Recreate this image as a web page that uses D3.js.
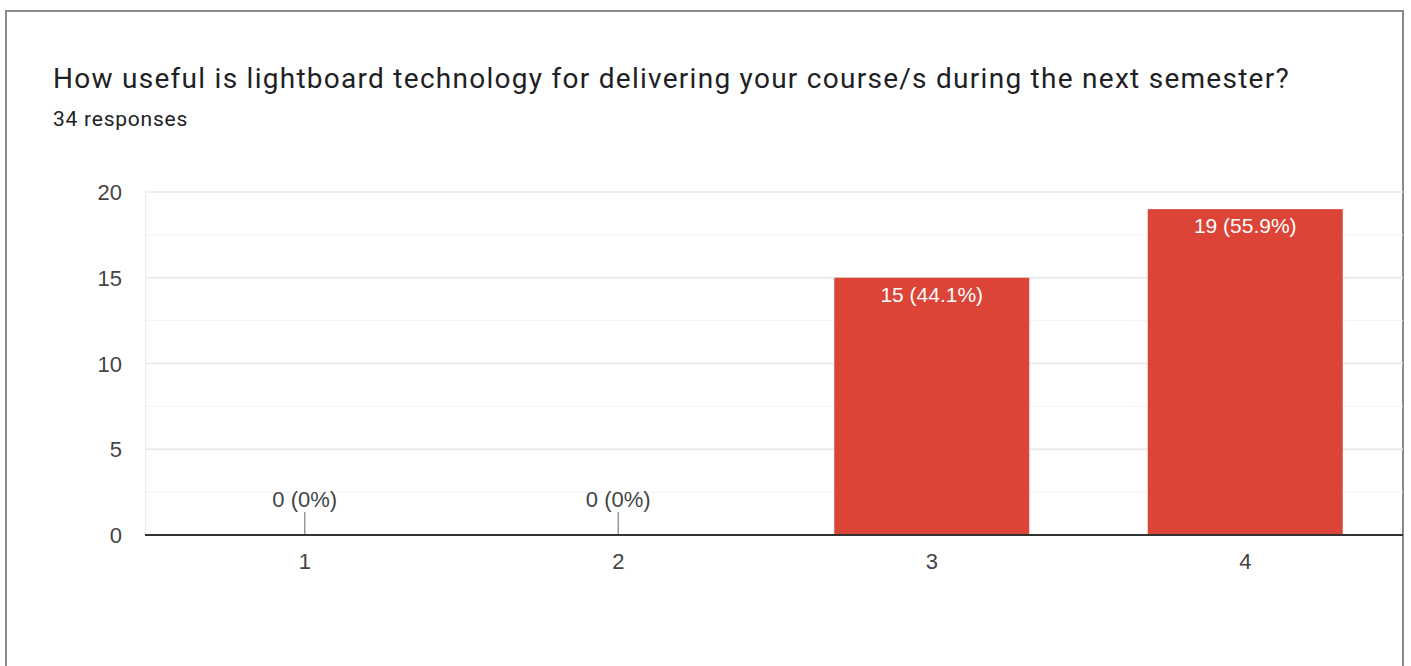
<!DOCTYPE html>
<head>
    <style>
        body {
            margin: 0;
            background: #fff;
            font-family: "Liberation Sans", Arial, sans-serif;
        }
        .card {
            position: absolute;
            left: 5px;
            top: 10px;
            width: 1399px;
            height: 700px;
            border: 2px solid #8a8a8a;
            box-sizing: border-box;
        }
    </style>
    <script src='https://d3js.org/d3.v7.min.js'></script>
</head>
<body>
    <div class="card"></div>
    <script>
        // survey answers
        const categories = ['1', '2', '3', '4'];
        const counts = [0, 0, 15, 19];
        const yTicks = [0, 5, 10, 15, 20];
        const total = 34;

        const width = 1411, height = 666;

        const svg = d3.select('body').append('svg')
            .attr('width', width)
            .attr('height', height)
            .style('position', 'absolute')
            .style('left', 0)
            .style('top', 0);

        // nudge a text to a given width with letter spacing
        function fitWidth(sel, target) {
            const n = sel.text().length;
            const w = sel.node().getComputedTextLength();
            sel.style('letter-spacing', ((target - w) / n) + 'px');
        }

        //TITLE
        const title = svg.append('text')
            .attr('x', 53).attr('y', 88)
            .style('font-family', 'Roboto, sans-serif')
            .style('font-size', '28px')
            .style('fill', '#202124')
            .text('How useful is lightboard technology for delivering your course/s during the next semester?');
        fitWidth(title, 1237);

        const sub = svg.append('text')
            .attr('x', 53).attr('y', 126)
            .style('font-family', 'Roboto, sans-serif')
            .style('font-size', '21px')
            .style('fill', '#202124')
            .text(total + ' responses');
        fitWidth(sub, 135);

        const x = d3.scaleBand()
            .domain(categories)
            .range([148, 1402])
            .paddingInner(0.378)
            .paddingOuter(0.189);

        const y = d3.scaleLinear()
            .domain([0, 20])
            .range([535, 192]);

        // minor gridlines
        svg.append('g').selectAll('line')
            .data(d3.range(0, 20, 2.5).map(v => v + 2.5).filter(v => v % 5 != 0))
            .join('line')
            .attr('x1', 145).attr('x2', 1403)
            .attr('y1', d => y(d)).attr('y2', d => y(d))
            .style('stroke', '#f3f3f3').style('stroke-width', 1);

        // major gridlines
        svg.append('g').selectAll('line')
            .data(yTicks.slice(1))
            .join('line')
            .attr('x1', 145).attr('x2', 1403)
            .attr('y1', d => y(d)).attr('y2', d => y(d))
            .style('stroke', '#e8e8e8').style('stroke-width', 1.5);

        svg.append('line')
            .attr('x1', 145.5).attr('x2', 145.5)
            .attr('y1', y(20)).attr('y2', y(0))
            .style('stroke', '#ececec');

        // y tick labels
        svg.append('g').selectAll('text')
            .data(yTicks)
            .join('text')
            .attr('x', 122).attr('y', d => y(d) + 8)
            .attr('text-anchor', 'end')
            .style('font-size', '22px')
            .style('fill', '#444')
            .text(d => d);

        //BARS
        const bars = svg.append('g').selectAll('g')
            .data(categories.map((c, i) => ({ cat: c, v: counts[i] })))
            .join('g');

        bars.filter(d => d.v > 0).append('rect')
            .attr('x', d => x(d.cat))
            .attr('width', x.bandwidth())
            .attr('y', d => y(d.v))
            .attr('height', d => y(0) - y(d.v))
            .style('fill', '#db4437');

        const label = d => d.v + ' (' + (Math.round(d.v / total * 1000) / 10) + '%)';

        bars.filter(d => d.v > 0).append('text')
            .attr('x', d => x(d.cat) + x.bandwidth() / 2)
            .attr('y', d => y(d.v) + 24)
            .attr('text-anchor', 'middle')
            .style('font-size', '21px')
            .style('fill', '#fff')
            .text(label);

        // zero bars: stem + label above
        const zero = bars.filter(d => d.v == 0);
        zero.append('line')
            .attr('x1', d => x(d.cat) + x.bandwidth() / 2)
            .attr('x2', d => x(d.cat) + x.bandwidth() / 2)
            .attr('y1', y(0) - 23).attr('y2', y(0))
            .style('stroke', '#999').style('stroke-width', 1.5);
        zero.append('text')
            .attr('x', d => x(d.cat) + x.bandwidth() / 2)
            .attr('y', y(0) - 28)
            .attr('text-anchor', 'middle')
            .style('font-size', '22px')
            .style('fill', '#444')
            .text(label);

        // baseline
        svg.append('line')
            .attr('x1', 145).attr('x2', 1403)
            .attr('y1', y(0)).attr('y2', y(0))
            .style('stroke', '#333').style('stroke-width', 2);

        // x labels
        svg.append('g').selectAll('text')
            .data(categories)
            .join('text')
            .attr('x', d => x(d) + x.bandwidth() / 2)
            .attr('y', 569)
            .attr('text-anchor', 'middle')
            .style('font-size', '22px')
            .style('fill', '#444')
            .text(d => d);
    </script>
</body>
